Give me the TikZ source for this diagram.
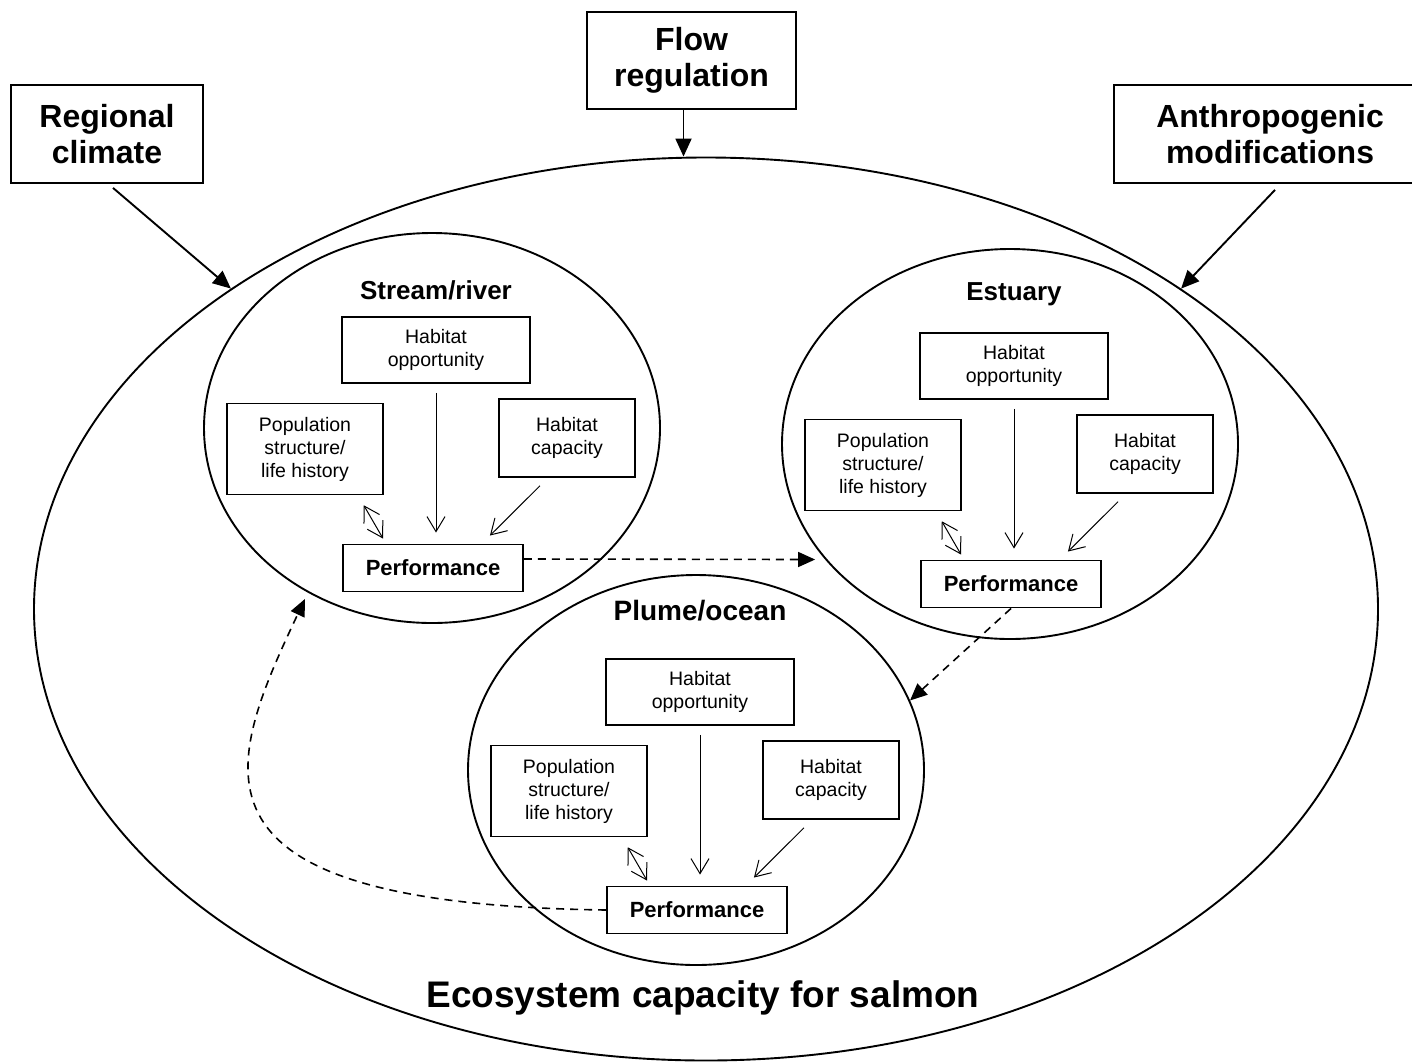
\documentclass[tikz,border=0pt]{standalone}
\usepackage{fontspec}
\setmainfont{Liberation Sans}
\usetikzlibrary{arrows.meta,shapes.geometric}

\tikzset{
  driver/.style={draw, line width=1.8pt, inner sep=0pt, align=center,
    font=\fontsize{32}{36}\selectfont\bfseries},
  factor/.style={draw, line width=1.5pt, inner sep=0pt, align=center,
    font=\fontsize{19.5}{23}\selectfont},
  perfbox/.style={draw, line width=1.9pt, inner sep=0pt, minimum width=180pt,
    minimum height=47pt, font=\fontsize{22}{24}\selectfont\bfseries},
  habitat/.style={draw, ellipse, line width=1.9pt, inner sep=0pt,
    minimum width=456pt, minimum height=390pt},
  bigarrow/.style={line width=1.9pt, -{Triangle[length=18pt,width=16pt]}},
  thinarrow/.style={line width=1pt, -{Straight Barb[length=15pt,width=18pt]}},
  twoway/.style={line width=1pt,
    {Straight Barb[length=15pt,width=18pt]}-{Straight Barb[length=15pt,width=18pt]}},
  linkarrow/.style={line width=1.6pt, dash pattern=on 8pt off 6pt,
    -{Triangle[length=17pt,width=15pt]}}
}

\begin{document}
\begin{tikzpicture}[x=1pt,y=-1pt]
\useasboundingbox (0,0) rectangle (1412,1063);

% Ecossistema
\node[draw, ellipse, line width=1.9pt, inner sep=0pt, minimum width=1344pt,
  minimum height=903pt] (eco) at (706,609) {};
\node[anchor=base, font=\fontsize{37}{40}\selectfont\bfseries] (ecolab) at (703,1007)
  {Ecosystem capacity for salmon};

% Fatores externos
\node[driver, minimum width=192pt, minimum height=98pt] (climate) at (107,134) {Regional\\climate};
\node[driver, minimum width=209pt, minimum height=97pt] (flow) at (691.5,60.5) {Flow\\regulation};
\node[driver, minimum width=312pt, minimum height=98pt] (anthro) at (1270,134) {Anthropogenic\\modifications};
\draw[bigarrow] ([xshift=6pt,yshift=-4pt]climate.south) -- (eco.146);
\draw[bigarrow] ([xshift=-8pt]flow.south) -- ([xshift=-8pt]flow.south |- eco.north);
\draw[bigarrow] ([xshift=5pt,yshift=-6pt]anthro.south) -- (eco.34);

% Habitats
\foreach \p/\cx/\cy/\ly/\fs/\name in
  {s/436/350/299/26/{Stream/river}, e/1014/366/300/26/Estuary, p/700/692/620/28/{Plume/ocean}}{
  \node[habitat] (\p-ell) at (\cx-4,\cy+78) {};
  \node[anchor=base, font=\fontsize{\fs}{\fs}\selectfont\bfseries] (\p-lab) at (\cx,\ly) {\name};
  \node[factor, minimum width=188pt, minimum height=66pt] (\p-opp) at (\cx,\cy) {Habitat\\opportunity};
  \node[factor, minimum width=156pt, minimum height=91pt] (\p-pop) at (\cx-131,\cy+99)
    {Population\\structure/\\life history};
  \node[factor, minimum width=136pt, minimum height=78pt] (\p-cap) at (\cx+131,\cy+88) {Habitat\\capacity};
  \node[perfbox] (\p-perf) at (\cx-3,\cy+218) {Performance};
  \draw[thinarrow, shorten <=9pt, shorten >=11pt] (\p-opp.south) -- (\p-opp.south |- \p-perf.north);
  \draw[thinarrow] ([xshift=-27pt,yshift=-8pt]\p-cap.south) -- ([xshift=-34pt,yshift=8pt]\p-perf.north east);
  \draw[twoway] ([xshift=-20pt,yshift=-10pt]\p-pop.south east) -- ([xshift=41pt,yshift=5pt]\p-perf.north west);
}

% Ciclo de vida
\draw[linkarrow, shorten >=10pt] ([yshift=9pt]s-perf.east) -- (e-ell.212);
\draw[linkarrow] (e-perf.south) -- (p-ell.18);
\draw[linkarrow, shorten >=7pt] (p-perf.west) .. controls +(-435,-6) and +(-84,178) .. (s-ell.233);
\end{tikzpicture}
\end{document}
